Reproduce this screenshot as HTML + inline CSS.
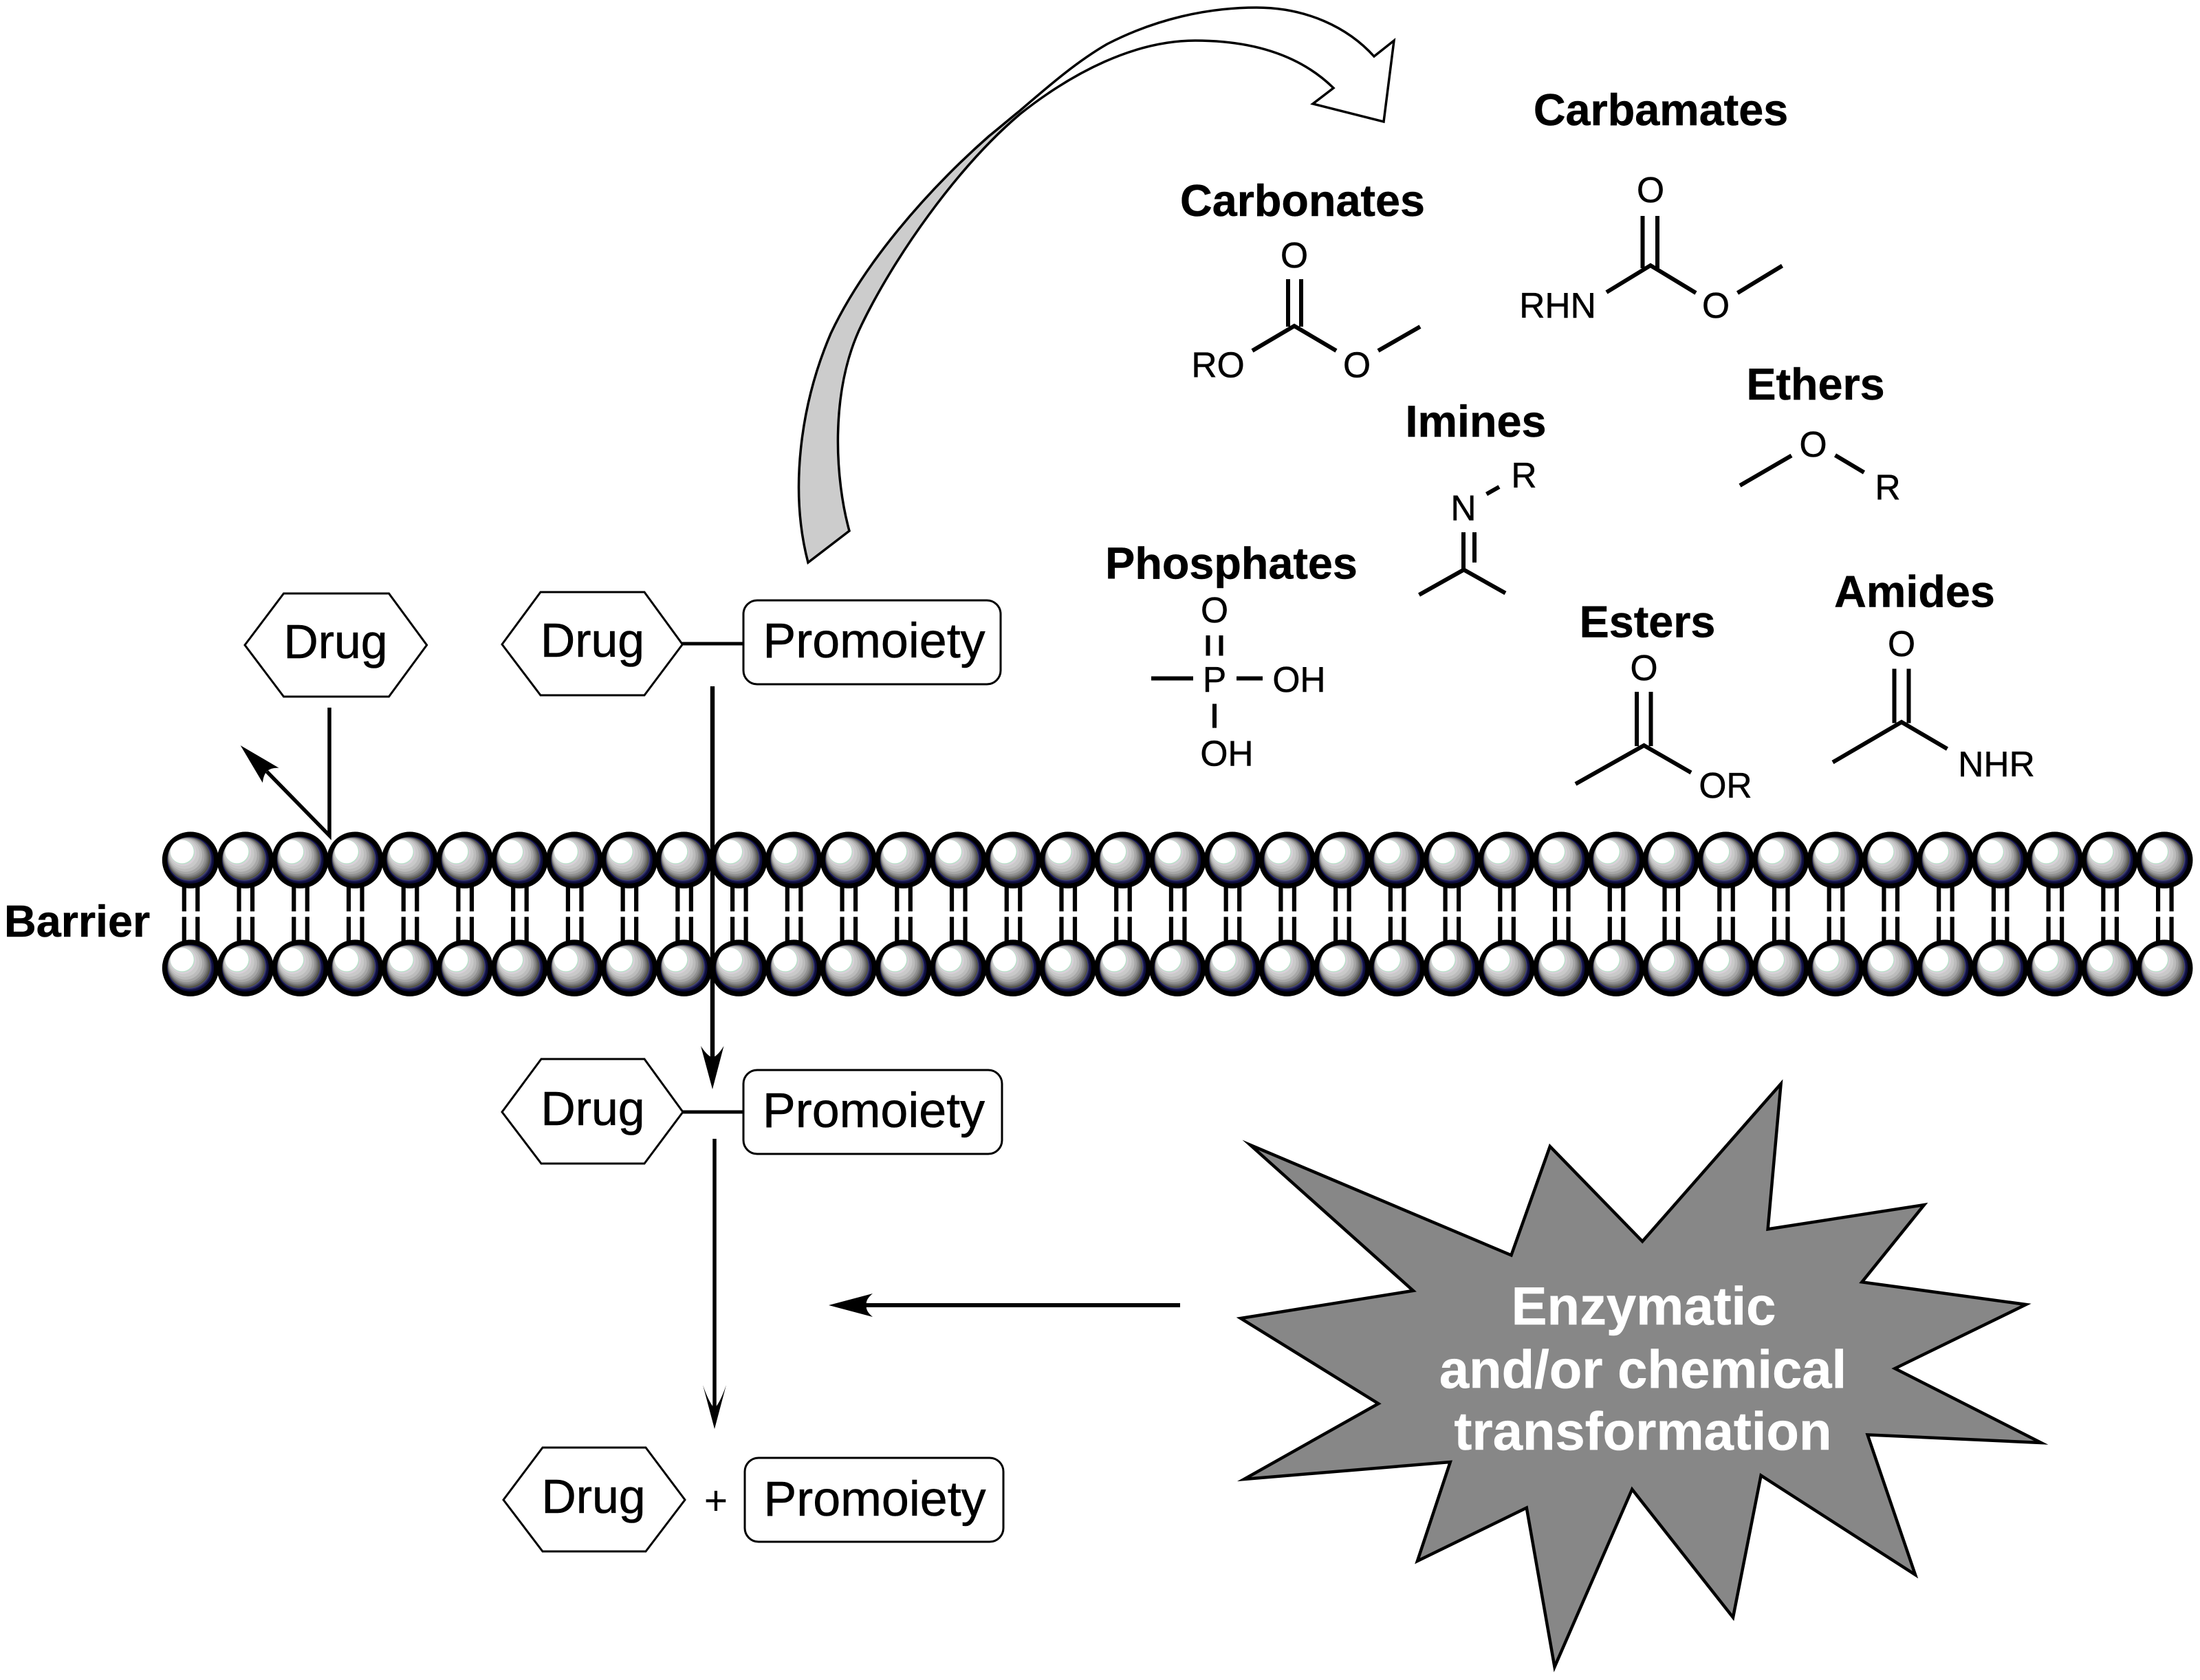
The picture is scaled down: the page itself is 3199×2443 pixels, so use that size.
<!DOCTYPE html>
<html lang="en">
<head>
<meta charset="utf-8">
<title>Prodrug barrier diagram</title>
<style>
html,body{margin:0;padding:0;background:#fff}
svg{display:block}
text{font-family:"Liberation Sans",Arial,sans-serif;fill:#000}
.h{font-weight:bold;font-size:64.7px;text-anchor:middle;stroke:#000;stroke-width:.5}
.c{font-size:51.5px;text-anchor:middle;stroke:#000;stroke-width:.5}
.d{font-size:69.8px;text-anchor:middle;stroke:#000;stroke-width:.6}
.p{font-size:71.8px;text-anchor:middle;stroke:#000;stroke-width:.6}
.w{font-weight:bold;font-size:77.8px;text-anchor:middle;fill:#fff;stroke:#fff;stroke-width:.5}
.b{stroke:#000;stroke-width:6;fill:none}
.s{fill:#fff;stroke:#000;stroke-width:3}
</style>
</head>
<body>
<svg xmlns="http://www.w3.org/2000/svg" width="3199" height="2443" viewBox="0 0 3199 2443">
<rect width="3199" height="2443" fill="#fff"/>
<defs>
<g id="bead">
<circle r="37.6" fill="#0c0c3c" stroke="#000" stroke-width="7.2"/>
<circle cx="-1.05" cy="-1.05" r="32.55" fill="#20205a"/>
<circle cx="-1.68" cy="-1.68" r="31.68" fill="#44446f"/>
<circle cx="-2.31" cy="-2.31" r="30.81" fill="#55553f"/>
<circle cx="-2.94" cy="-2.94" r="29.94" fill="#666666"/>
<circle cx="-3.78" cy="-3.78" r="28.78" fill="#7c7c7c"/>
<circle cx="-4.62" cy="-4.62" r="27.62" fill="#909090"/>
<circle cx="-5.66" cy="-5.66" r="26.17" fill="#a6a6a6"/>
<circle cx="-7.13" cy="-7.13" r="24.14" fill="#bbbbbb"/>
<circle cx="-8.81" cy="-8.81" r="21.82" fill="#c9c9c9"/>
<circle cx="-10.7" cy="-10.7" r="19.2" fill="#d8d0d8"/>
<circle cx="-11.75" cy="-11.75" r="17.76" fill="#b8e0c8"/>
<circle cx="-12.3" cy="-12.3" r="17" fill="#ffffff"/>
</g>
<g id="u">
<rect x="-12.3" y="1288" width="6.2" height="37.3" fill="#000"/>
<rect x="7.2" y="1288" width="6.2" height="37.3" fill="#000"/>
<rect x="-12.3" y="1333.3" width="6.2" height="38" fill="#000"/>
<rect x="7.2" y="1333.3" width="6.2" height="38" fill="#000"/>
<use href="#bead" x="0" y="1250.7"/>
<use href="#bead" x="0" y="1407.7"/>
</g>
</defs>

<!-- barrier -->
<use href="#u" x="277"/><use href="#u" x="356.73"/><use href="#u" x="436.46"/><use href="#u" x="516.19"/><use href="#u" x="595.92"/><use href="#u" x="675.65"/><use href="#u" x="755.38"/><use href="#u" x="835.11"/><use href="#u" x="914.84"/><use href="#u" x="994.57"/><use href="#u" x="1074.3"/><use href="#u" x="1154.03"/><use href="#u" x="1233.76"/><use href="#u" x="1313.49"/><use href="#u" x="1393.22"/><use href="#u" x="1472.95"/><use href="#u" x="1552.68"/><use href="#u" x="1632.41"/><use href="#u" x="1712.14"/><use href="#u" x="1791.87"/><use href="#u" x="1871.6"/><use href="#u" x="1951.33"/><use href="#u" x="2031.06"/><use href="#u" x="2110.79"/><use href="#u" x="2190.52"/><use href="#u" x="2270.25"/><use href="#u" x="2349.98"/><use href="#u" x="2429.71"/><use href="#u" x="2509.44"/><use href="#u" x="2589.17"/><use href="#u" x="2668.9"/><use href="#u" x="2748.63"/><use href="#u" x="2828.36"/><use href="#u" x="2908.09"/><use href="#u" x="2987.82"/><use href="#u" x="3067.55"/><use href="#u" x="3147.28"/>
<text x="6" y="1362" font-weight="bold" font-size="64.7" stroke="#000" stroke-width=".5">Barrier</text>

<!-- curved arrow -->
<path fill="#fff" d="M1175,818 C1148,715 1163,590 1208,485 C1255,385 1345,280 1438,198 C1453,186 1468,173 1483,161 C1525,125 1565,90 1610,64 C1680,28 1755,11 1827,11 C1900,11 1960,40 1998,82 L2027,59 L2012,177 L1909,151 L1939,128 C1885,75 1810,59 1738,59 C1650,59 1560,105 1483,166 C1390,245 1300,375 1253,472 C1205,570 1215,700 1235,772 Z"/>
<path fill="#cccccc" d="M1175,818 C1148,715 1163,590 1208,485 C1255,385 1345,280 1438,198 C1453,186 1468,173 1483,161 L1483,166 C1390,245 1300,375 1253,472 C1205,570 1215,700 1235,772 Z"/>
<path fill="none" stroke="#000" stroke-width="3.5" stroke-linejoin="miter" d="M1175,818 C1148,715 1163,590 1208,485 C1255,385 1345,280 1438,198 C1453,186 1468,173 1483,161 C1525,125 1565,90 1610,64 C1680,28 1755,11 1827,11 C1900,11 1960,40 1998,82 L2027,59 L2012,177 L1909,151 L1939,128 C1885,75 1810,59 1738,59 C1650,59 1560,105 1483,166 C1390,245 1300,375 1253,472 C1205,570 1215,700 1235,772 Z"/>

<!-- headings -->
<text class="h" x="2415" y="182">Carbamates</text>
<text class="h" x="1894" y="314">Carbonates</text>
<text class="h" x="2146" y="635">Imines</text>
<text class="h" x="2640" y="581">Ethers</text>
<text class="h" x="1790.5" y="841.5">Phosphates</text>
<text class="h" x="2395.5" y="926.5">Esters</text>
<text class="h" x="2784" y="882.5">Amides</text>

<!-- carbamate -->
<text class="c" x="2400" y="294">O</text>
<text class="c" x="2265" y="462">RHN</text>
<text class="c" x="2495" y="462">O</text>
<path class="b" d="M2388.5,314V390M2410,314V390M2336,425L2400,386L2466,426M2526.5,426L2591.5,386.5"/>

<!-- carbonate -->
<text class="c" x="1882" y="389">O</text>
<text class="c" x="1771" y="548.5">RO</text>
<text class="c" x="1973" y="548.5">O</text>
<path class="b" d="M1873,406V475M1892,406V475M1821,510L1882,474L1943,510M2004,510L2065,475"/>

<!-- imine -->
<text class="c" x="2128" y="756.5">N</text>
<text class="c" x="2216" y="709">R</text>
<path class="b" d="M2161.5,718.5L2180,708M2128,774V828M2144,774V818M2063.5,865L2128.5,828.5L2189,862.5"/>

<!-- ether -->
<text class="c" x="2636.5" y="664">O</text>
<text class="c" x="2745" y="726.5">R</text>
<path class="b" d="M2530,706L2605,662.5M2668.5,662L2710.5,687"/>

<!-- ester -->
<text class="c" x="2390.5" y="989">O</text>
<text class="c" x="2509" y="1160">OR</text>
<path class="b" d="M2380,1006V1085M2400.5,1006V1085M2291,1140L2390.5,1084L2459,1123.5"/>

<!-- amide -->
<text class="c" x="2765" y="954">O</text>
<text class="c" x="2903" y="1129">NHR</text>
<path class="b" d="M2754.5,972.5V1051.5M2775.5,972.5V1051.5M2665,1108.5L2765,1050L2831.5,1089"/>

<!-- phosphate -->
<text class="c" x="1766" y="905">O</text>
<text class="c" x="1766" y="1006">P</text>
<text class="c" x="1889" y="1006">OH</text>
<text class="c" x="1784" y="1113.5">OH</text>
<path class="b" d="M1756.5,924V953.5M1775.5,924V953.5M1674,986.5H1735M1798,986.5H1836M1766,1023.5V1058.5"/>

<!-- top row -->
<polygon class="s" points="356,938 412.5,863 565.5,863 620.6,938 565.5,1013 412.5,1013"/>
<text class="d" x="488" y="957">Drug</text>
<polygon class="s" points="730,937 786,861 937,861 992.4,937 937,1011 786,1011"/>
<text class="d" x="861.5" y="955">Drug</text>
<line x1="992" y1="936" x2="1081" y2="936" stroke="#000" stroke-width="5"/>
<rect class="s" x="1081" y="873" width="374" height="122" rx="20"/>
<text class="p" x="1271" y="956">Promoiety</text>

<!-- left arrow -->
<path d="M479,1029V1215L388,1122" fill="none" stroke="#000" stroke-width="5.5"/>
<path d="M349.7,1084L405.6,1116.7Q394,1116 388,1121.7Q383,1127 381.9,1138.3Z" fill="#000"/>

<!-- through arrow -->
<line x1="1036" y1="998" x2="1036" y2="1540" stroke="#000" stroke-width="6.4"/>
<path d="M1036,1584L1019,1521Q1028,1535 1036,1538Q1044,1535 1052.5,1521Z" fill="#000"/>

<!-- middle row -->
<polygon class="s" points="730,1617 787,1540 937,1540 993,1617 937,1692 787,1692"/>
<text class="d" x="862" y="1636">Drug</text>
<line x1="993" y1="1617" x2="1081" y2="1617" stroke="#000" stroke-width="5"/>
<rect class="s" x="1081" y="1556" width="376" height="122" rx="20"/>
<text class="p" x="1270.5" y="1639">Promoiety</text>

<!-- second arrow -->
<line x1="1039" y1="1656" x2="1039" y2="2050" stroke="#000" stroke-width="5.5"/>
<path d="M1039,2078L1022,2014Q1031,2040 1039,2048Q1047,2040 1056,2014Z" fill="#000"/>

<!-- horizontal arrow -->
<line x1="1258" y1="1898" x2="1716" y2="1898" stroke="#000" stroke-width="6"/>
<path d="M1205,1898L1269,1881Q1258,1890 1260,1898Q1258,1906 1269,1915Z" fill="#000"/>

<!-- bottom row -->
<polygon class="s" points="732,2181 789,2105 939,2105 996,2181 939,2256 789,2256"/>
<text class="d" x="863" y="2200">Drug</text>
<text x="1041" y="2202" font-size="59" text-anchor="middle">+</text>
<rect class="s" x="1083" y="2120" width="376" height="122" rx="20"/>
<text class="p" x="1272" y="2204">Promoiety</text>

<!-- star -->
<polygon fill="#878787" stroke="#000" stroke-width="4.5" stroke-linejoin="miter" stroke-miterlimit="20" points="1818,1665 2197.5,1825.3 2253.8,1667 2388.2,1805.2 2589.6,1576 2570.6,1787.4 2798,1752 2707.4,1864.3 2946,1897 2755.4,1990 2968,2098 2715.6,2086.4 2785,2290 2560.6,2145.6 2520,2352 2373.2,2165.7 2260.5,2424 2219.8,2192.6 2061,2270 2108.8,2126 1809,2151 2004.3,2041.1 1804,1917 2054.9,1876.9"/>
<text class="w" x="2396" y="1926" style="text-anchor:middle" transform="translate(-6,0)">Enzymatic</text>
<text class="w" x="2394" y="2018" transform="translate(-5,0)">and/or chemical</text>
<text class="w" x="2394" y="2108" transform="translate(-5,0)">transformation</text>
</svg>
</body>
</html>
